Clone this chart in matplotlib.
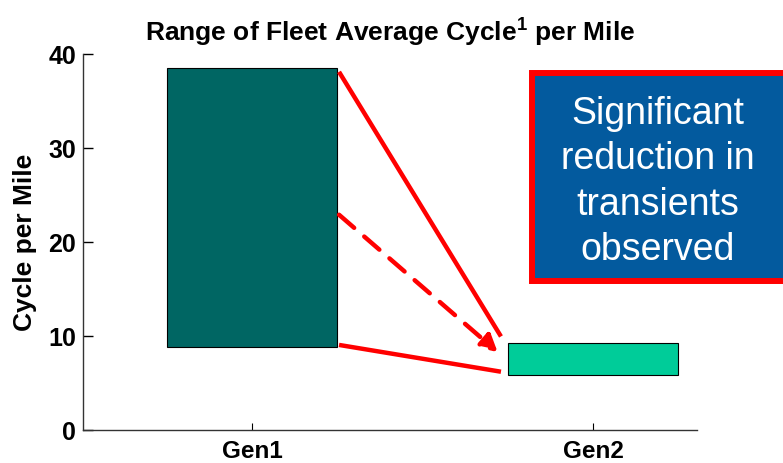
import matplotlib
matplotlib.use("Agg")
import matplotlib.pyplot as plt
from matplotlib.patches import Rectangle

plt.rcParams['font.family'] = ['Liberation Sans', 'DejaVu Sans']
plt.rcParams['mathtext.fontset'] = 'custom'
plt.rcParams['mathtext.rm'] = 'Liberation Sans'
plt.rcParams['mathtext.bf'] = 'Liberation Sans:bold'

categories = ["Gen1", "Gen2"]
range_low = [8.8, 5.9]
range_high = [38.5, 9.25]
bar_colors = ["#006663", "#00CC99"]
title = "Range of Fleet Average Cycle$^{\\mathbf{1}}$ per Mile"
ylabel = "Cycle per Mile"
box_text = "Significant\nreduction in\ntransients\nobserved"
yticks = [0, 10, 20, 30, 40]

W, H = 783, 463
fig = plt.figure(figsize=(W / 100, H / 100), dpi=100)
ax = fig.add_axes([83 / W, 33 / H, (697 - 83) / W, (430 - 54) / H])

xs = [1, 2]
heights = [h - l for h, l in zip(range_high, range_low)]
ax.bar(xs, heights, bottom=range_low, width=0.5, color=bar_colors,
       edgecolor="black", linewidth=0.8, zorder=2)

ax.set_xlim(0.504, 2.305)
ax.set_ylim(0, 40)
ax.set_xticks(xs)
ax.set_xticklabels(categories, fontsize=17.5, fontweight="bold")
ax.set_yticks(yticks)
ax.set_yticklabels([str(t) for t in yticks], fontsize=18, fontweight="bold")
ax.tick_params(axis="y", direction="in", length=7, width=1, pad=5)
ax.tick_params(axis="x", direction="in", length=5, width=0.8, pad=7)
for s in ["top", "right"]:
    ax.spines[s].set_visible(False)
for s in ["left", "bottom"]:
    ax.spines[s].set_color("#333333")
    ax.spines[s].set_linewidth(1.0)
ax.set_ylabel(ylabel, fontsize=19, fontweight="bold", labelpad=8)
ax.set_title(title, fontsize=19, fontweight="bold", pad=10)

# red connector lines
x_start = xs[0] + 0.255
x_end = xs[1] - 0.27
ax.plot([x_start, x_end], [range_high[0] - 0.4, range_high[1] + 0.7],
        color="red", lw=3.2, solid_capstyle="butt", zorder=3)
ax.plot([x_start, x_end], [range_low[0] + 0.25, range_low[1] + 0.3],
        color="red", lw=3.2, solid_capstyle="butt", zorder=3)
mid_start = (range_high[0] + range_low[0]) / 2 - 0.75
ax.annotate("", xy=(x_end - 0.01, range_low[1] + 2.4), xytext=(x_start, mid_start),
            arrowprops=dict(arrowstyle="-|>,head_length=1.0,head_width=0.55",
                            color="red", lw=3.2, linestyle=(0, (4.5, 3)),
                            shrinkA=0, shrinkB=0), zorder=3)

# annotation box
fig.patches.append(Rectangle((532 / W, 1 - 280.5 / H), (800 - 532) / W, (280.5 - 73) / H,
                             transform=fig.transFigure, facecolor="#035A9E",
                             edgecolor="#FF0000", linewidth=4.3, zorder=5))
fig.text(658 / W, 1 - 182 / H, box_text, color="white", fontsize=27,
         ha="center", va="center", linespacing=1.33, zorder=6)

fig.savefig("out.png", dpi=100)
